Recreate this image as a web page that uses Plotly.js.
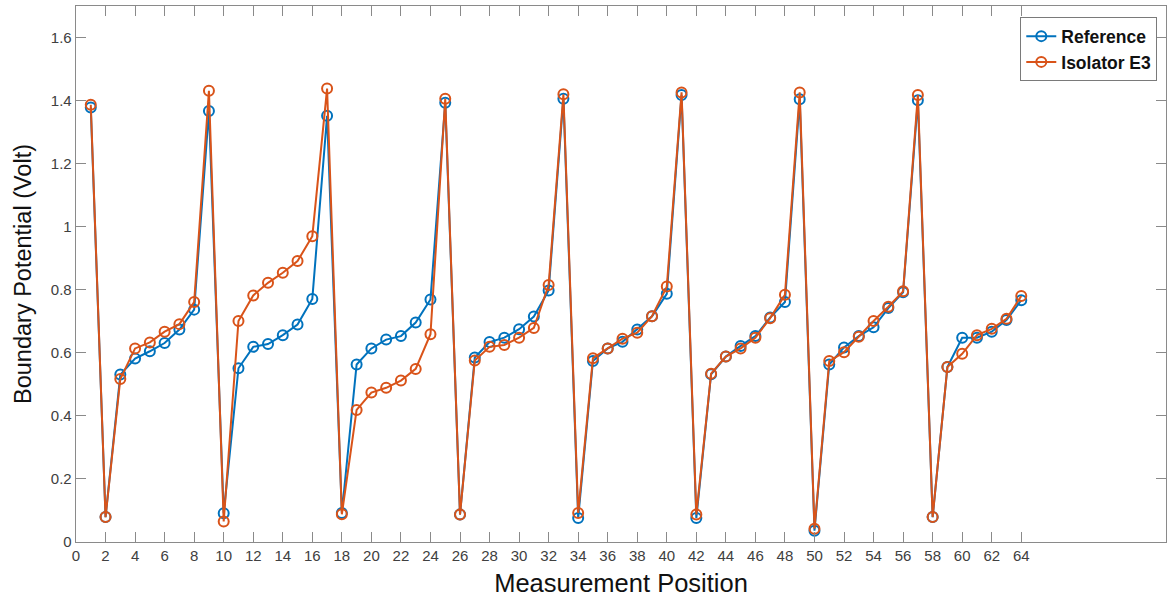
<!DOCTYPE html>
<html>
<head>
<meta charset="utf-8">
<script src="https://cdn.plot.ly/plotly-3.0.1.min.js"></script>
<style>
html,body{margin:0;padding:0;background:#fff;}
#chart{width:1167px;height:603px;}
</style>
</head>
<body>
<div id="chart"></div>
<script>
const positions = Array.from({length: 64}, (_, i) => i + 1);

const referenceValues = [
  1.378, 0.079, 0.531, 0.582, 0.605, 0.631, 0.674, 0.737,
  1.367, 0.091, 0.551, 0.619, 0.628, 0.656, 0.690, 0.771,
  1.352, 0.092, 0.563, 0.614, 0.642, 0.653, 0.696, 0.769,
  1.393, 0.087, 0.585, 0.634, 0.648, 0.675, 0.715, 0.798,
  1.406, 0.076, 0.574, 0.614, 0.635, 0.674, 0.716, 0.787,
  1.418, 0.076, 0.532, 0.588, 0.622, 0.653, 0.712, 0.761,
  1.404, 0.036, 0.563, 0.617, 0.653, 0.681, 0.742, 0.792,
  1.401, 0.079, 0.555, 0.648, 0.648, 0.667, 0.704, 0.767
];

const isolatorValues = [
  1.387, 0.079, 0.517, 0.614, 0.633, 0.667, 0.691, 0.761,
  1.431, 0.065, 0.701, 0.782, 0.822, 0.854, 0.891, 0.970,
  1.438, 0.088, 0.419, 0.474, 0.489, 0.512, 0.549, 0.659,
  1.406, 0.087, 0.576, 0.619, 0.625, 0.648, 0.679, 0.815,
  1.420, 0.092, 0.583, 0.614, 0.645, 0.664, 0.716, 0.810,
  1.426, 0.087, 0.534, 0.588, 0.614, 0.648, 0.710, 0.784,
  1.426, 0.042, 0.574, 0.602, 0.651, 0.701, 0.746, 0.795,
  1.418, 0.079, 0.555, 0.597, 0.656, 0.676, 0.708, 0.780
];

const seriesNames = ['Reference', 'Isolator E3'];
const xTickVals = Array.from({length: 33}, (_, i) => i * 2);
const yTickVals = [0, 0.2, 0.4, 0.6, 0.8, 1, 1.2, 1.4, 1.6];
const yTickText = ['0', '0.2', '0.4', '0.6', '0.8', '1', '1.2', '1.4', '1.6'];

const colors = ['#0072BD', '#D95319'];

function makeTrace(y, name, color) {
  return {
    x: positions,
    y: y,
    name: name,
    type: 'scatter',
    mode: 'lines+markers',
    line: {color: color, width: 2},
    marker: {symbol: 'circle-open', size: 10, color: color, line: {width: 2, color: color}}
  };
}

const data = [
  makeTrace(referenceValues, seriesNames[0], colors[0]),
  makeTrace(isolatorValues, seriesNames[1], colors[1])
];

const axisColor = '#8a8a8a';
const layout = {
  width: 1167,
  height: 603,
  paper_bgcolor: '#ffffff',
  plot_bgcolor: '#ffffff',
  margin: {l: 76, r: 1, t: 6, b: 61},
  font: {family: 'Arial, Liberation Sans, sans-serif', color: '#404040'},
  showlegend: true,
  legend: {
    x: 0.992, y: 0.979, xanchor: 'right', yanchor: 'top',
    bgcolor: '#ffffff', bordercolor: '#7a7a7a', borderwidth: 1,
    font: {family: 'Arial, Liberation Sans, sans-serif', size: 17.5, color: '#111111', weight: 'bold'},
    tracegroupgap: 0
  },
  xaxis: {
    range: [0, 73.8],
    tickmode: 'array',
    tickvals: xTickVals,
    ticks: 'inside',
    ticklen: 10,
    tickwidth: 1,
    tickcolor: axisColor,
    showline: true,
    linecolor: axisColor,
    linewidth: 1.3,
    mirror: 'ticks',
    showgrid: false,
    zeroline: false,
    tickfont: {size: 15, color: '#404040'},
    title: {text: 'Measurement Position', font: {size: 25.5, color: '#111111'}, standoff: 11}
  },
  yaxis: {
    range: [0, 1.7],
    tickmode: 'array',
    tickvals: yTickVals,
    ticktext: yTickText,
    ticks: 'inside',
    ticklen: 10,
    tickwidth: 1,
    tickcolor: axisColor,
    showline: true,
    linecolor: axisColor,
    linewidth: 1.3,
    mirror: 'ticks',
    showgrid: false,
    zeroline: false,
    tickfont: {size: 15, color: '#404040'},
    title: {text: 'Boundary Potential (Volt)', font: {size: 23.5, color: '#111111'}, standoff: 12}
  }
};

Plotly.newPlot('chart', data, layout, {displayModeBar: false, staticPlot: true});
</script>
</body>
</html>
